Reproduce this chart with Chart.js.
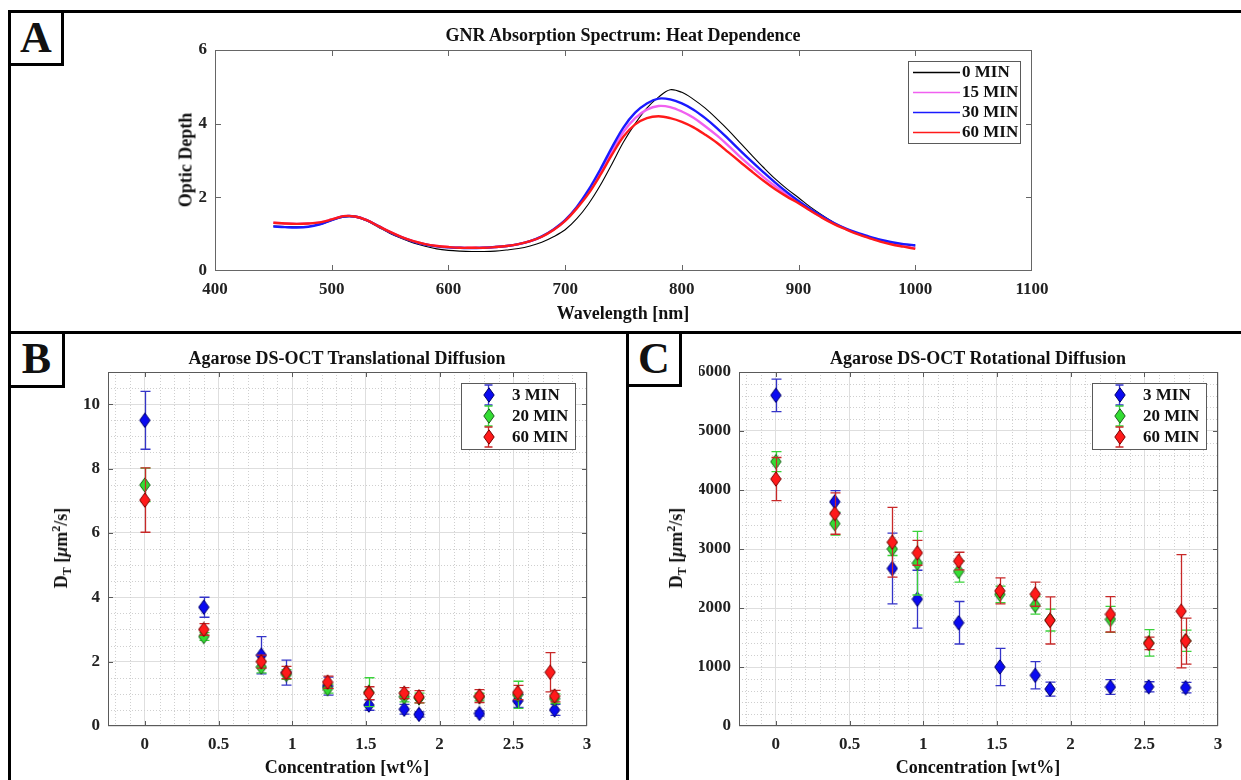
<!DOCTYPE html>
<html>
<head>
<meta charset="utf-8">
<script src="https://cdn.jsdelivr.net/npm/chart.js@4.4.1/dist/chart.umd.min.js"></script>
<style>
  body { margin: 0; background: #fff; }
  #fig { position: relative; width: 1241px; height: 780px; overflow: hidden;
         font-family: "Liberation Serif", "Times New Roman", serif; font-weight: bold; color: #111; }
  .pane { position: absolute; }
  .rule { position: absolute; background: #000; z-index: 3; }
  .letter { position: absolute; border: 3px solid #000; background: #fff; font-size: 44px;
            line-height: 50px; text-align: center; box-sizing: border-box; z-index: 4; }
  .txt { position: absolute; white-space: nowrap; transform: translate(-50%, -50%); font-size: 18px; z-index: 2; }
  .ytxt { position: absolute; white-space: nowrap; transform: translate(-50%, -50%) rotate(-90deg); font-size: 18px; z-index: 2; }
  .ytxt sub { font-size: 12px; vertical-align: -4px; }
  .ytxt sup { font-size: 12px; vertical-align: 7px; }
</style>
</head>
<body>
<div id="fig">
  <div class="pane" style="left:0px;top:0px;width:1241px;height:332px"><canvas id="chartA" width="1241" height="332"></canvas></div>
  <div class="pane" style="left:0px;top:332px;width:626px;height:448px"><canvas id="chartB" width="626" height="448"></canvas></div>
  <div class="pane" style="left:629px;top:332px;width:612px;height:448px"><canvas id="chartC" width="612" height="448"></canvas></div>

  <div class="rule" style="left:8px;top:10px;width:1233px;height:3px"></div>
  <div class="rule" style="left:8px;top:10px;width:3px;height:770px"></div>
  <div class="rule" style="left:8px;top:331px;width:1233px;height:3px"></div>
  <div class="rule" style="left:626px;top:331px;width:3px;height:449px"></div>

  <div class="letter" style="left:8px;top:10px;width:56px;height:56px">A</div>
  <div class="letter" style="left:8px;top:331px;width:57px;height:57px">B</div>
  <div class="letter" style="left:626px;top:331px;width:56px;height:56px">C</div>

  <div class="txt" style="left:623px;top:35px">GNR Absorption Spectrum: Heat Dependence</div>
  <div class="txt" style="left:623px;top:313px">Wavelength [nm]</div>
  <div class="ytxt" style="left:186px;top:160px">Optic Depth</div>

  <div class="txt" style="left:347px;top:358px">Agarose DS-OCT Translational Diffusion</div>
  <div class="txt" style="left:347px;top:767px">Concentration [wt%]</div>
  <div class="ytxt" style="left:62px;top:548px">D<sub>T</sub> [<i>&mu;</i>m<sup>2</sup>/s]</div>

  <div class="txt" style="left:978px;top:358px">Agarose DS-OCT Rotational Diffusion</div>
  <div class="txt" style="left:978px;top:767px">Concentration [wt%]</div>
  <div class="ytxt" style="left:677px;top:548px">D<sub>T</sub> [<i>&mu;</i>m<sup>2</sup>/s]</div>
</div>

<script>
// ---- panel A: absorption spectra ----
const wavelength = [450, 460, 470, 480, 490, 500, 510, 520, 530, 540,
                    550, 560, 570, 580, 590, 600, 610, 620, 630, 640,
                    650, 660, 670, 680, 690, 700, 710, 720, 730, 740,
                    750, 760, 770, 780, 790, 800, 810, 820, 830, 840,
                    850, 860, 870, 880, 890, 900, 910, 920, 930, 940,
                    950, 960, 970, 980, 990, 1000];
const od0 = [1.22, 1.21, 1.20, 1.21, 1.26, 1.37, 1.46, 1.46, 1.36, 1.19,
             1.02, 0.88, 0.76, 0.67, 0.60, 0.56, 0.54, 0.53, 0.53, 0.54,
             0.57, 0.61, 0.68, 0.78, 0.93, 1.12, 1.42, 1.82, 2.32, 2.90,
             3.50, 4.00, 4.42, 4.72, 4.92, 4.85, 4.66, 4.42, 4.13, 3.82,
             3.48, 3.14, 2.81, 2.50, 2.23, 1.99, 1.74, 1.52, 1.32, 1.16,
             1.02, 0.91, 0.83, 0.77, 0.72, 0.68];
const od15 = [1.31, 1.29, 1.28, 1.29, 1.32, 1.40, 1.49, 1.48, 1.38, 1.22,
              1.06, 0.92, 0.81, 0.73, 0.68, 0.65, 0.63, 0.63, 0.63, 0.65,
              0.68, 0.73, 0.81, 0.93, 1.12, 1.37, 1.72, 2.15, 2.68, 3.25,
              3.78, 4.15, 4.38, 4.48, 4.45, 4.33, 4.16, 3.93, 3.68, 3.40,
              3.10, 2.82, 2.55, 2.30, 2.07, 1.86, 1.65, 1.46, 1.29, 1.15,
              1.02, 0.91, 0.82, 0.74, 0.68, 0.62];
const od30 = [1.21, 1.19, 1.18, 1.20, 1.27, 1.38, 1.48, 1.48, 1.38, 1.22,
              1.05, 0.91, 0.80, 0.72, 0.67, 0.64, 0.63, 0.62, 0.63, 0.65,
              0.68, 0.73, 0.81, 0.94, 1.13, 1.38, 1.74, 2.20, 2.75, 3.35,
              3.90, 4.30, 4.55, 4.68, 4.66, 4.55, 4.38, 4.15, 3.88, 3.58,
              3.27, 2.97, 2.68, 2.40, 2.14, 1.90, 1.68, 1.49, 1.31, 1.16,
              1.04, 0.94, 0.85, 0.78, 0.73, 0.70];
const od60 = [1.31, 1.29, 1.28, 1.29, 1.32, 1.40, 1.49, 1.48, 1.38, 1.22,
              1.06, 0.92, 0.81, 0.73, 0.68, 0.65, 0.63, 0.63, 0.63, 0.65,
              0.68, 0.73, 0.81, 0.93, 1.11, 1.36, 1.70, 2.10, 2.60, 3.15,
              3.65, 3.98, 4.15, 4.20, 4.15, 4.05, 3.90, 3.70, 3.48, 3.22,
              2.96, 2.70, 2.45, 2.22, 2.02, 1.84, 1.64, 1.45, 1.28, 1.14,
              1.01, 0.90, 0.80, 0.72, 0.66, 0.60];
const specTicksX = [400, 500, 600, 700, 800, 900, 1000, 1100];
const specTicksY = [0, 2, 4, 6];

// ---- panels B and C: diffusion vs concentration ----
const conc = [0, 0.4, 0.79, 0.96, 1.24, 1.52, 1.76, 1.86, 2.27, 2.53, 2.78];
const conc60 = [0, 0.4, 0.79, 0.96, 1.24, 1.52, 1.76, 1.86, 2.27, 2.53, 2.75, 2.78];
const concTicks = [0, 0.5, 1, 1.5, 2, 2.5, 3];

const trans3 = [9.5, 3.69, 2.2, 1.66, 1.24, 0.65, 0.52, 0.36, 0.39, 0.78, 0.5];
const trans3Err = [0.9, 0.31, 0.58, 0.39, 0.28, 0.16, 0.15, 0.08, 0.08, 0.2, 0.17];
const trans20 = [7.49, 2.78, 1.83, 1.6, 1.16, 1.05, 0.91, 0.87, 0.9, 0.97, 0.85];
const trans20Err = [0.52, 0.12, 0.18, 0.15, 0.14, 0.45, 0.16, 0.15, 0.12, 0.42, 0.15];
const trans60 = [7.02, 3.0, 2.0, 1.66, 1.36, 1.02, 1.02, 0.91, 0.93, 1.04, 1.67, 0.93];
const trans60Err = [1.0, 0.18, 0.2, 0.19, 0.19, 0.2, 0.17, 0.19, 0.2, 0.22, 0.61, 0.18];
const transTicks = [0, 2, 4, 6, 8, 10];

const rot3 = [5605, 3800, 2670, 2150, 1750, 1000, 860, 625, 660, 665, 650];
const rot3Err = [275, 190, 600, 490, 360, 315, 230, 120, 125, 85, 90];
const rot20 = [4480, 3430, 3000, 2760, 2620, 2230, 2045, 1795, 1808, 1410, 1445];
const rot20Err = [170, 195, 110, 540, 180, 140, 150, 185, 220, 225, 180];
const rot60 = [4186, 3600, 3115, 2935, 2795, 2290, 2235, 1790, 1893, 1400, 1945, 1440];
const rot60Err = [365, 350, 590, 210, 150, 220, 205, 400, 300, 105, 960, 390];
const rotTicks = [0, 1000, 2000, 3000, 4000, 5000, 6000];

const FONT = '"Liberation Serif", "Times New Roman", serif';

function pts(xs, ys) {
  return xs.map((x, i) => ({x: x, y: ys[i]}));
}

function diamond(fill, edge) {
  const c = document.createElement('canvas');
  c.width = 12; c.height = 16;
  const g = c.getContext('2d');
  g.beginPath();
  g.moveTo(6, 0.8); g.lineTo(11.2, 8); g.lineTo(6, 15.2); g.lineTo(0.8, 8);
  g.closePath();
  g.fillStyle = fill; g.fill();
  g.lineWidth = 1; g.strokeStyle = edge; g.stroke();
  return c;
}

// box round the plot area with inward tick marks on all four sides
const frameTicks = {
  id: 'frameTicks',
  afterDatasetsDraw(chart, args, o) {
    if (!o.color) return;
    const {ctx, chartArea: a, scales: {x, y}} = chart;
    ctx.save();
    ctx.strokeStyle = o.color;
    ctx.lineWidth = 1;
    ctx.strokeRect(a.left + 0.5, a.top + 0.5, a.width - 1, a.height - 1);
    ctx.beginPath();
    x.ticks.forEach(t => {
      const px = Math.round(x.getPixelForValue(t.value)) + 0.5;
      if (px < a.left + 2 || px > a.right - 2) return;
      ctx.moveTo(px, a.bottom); ctx.lineTo(px, a.bottom - o.len);
      ctx.moveTo(px, a.top); ctx.lineTo(px, a.top + o.len);
    });
    y.ticks.forEach(t => {
      const py = Math.round(y.getPixelForValue(t.value)) + 0.5;
      if (py < a.top + 2 || py > a.bottom - 2) return;
      ctx.moveTo(a.left, py); ctx.lineTo(a.left + o.len, py);
      ctx.moveTo(a.right, py); ctx.lineTo(a.right - o.len, py);
    });
    ctx.stroke();
    ctx.restore();
  }
};

// dotted minor grid
const minorGrid = {
  id: 'minorGrid',
  beforeDatasetsDraw(chart, args, o) {
    if (!o.xStep) return;
    const {ctx, chartArea: a, scales: {x, y}} = chart;
    ctx.save();
    ctx.strokeStyle = o.color;
    ctx.lineWidth = 1;
    ctx.setLineDash([1, 2]);
    ctx.beginPath();
    const near = (v, m) => Math.abs(v / m - Math.round(v / m)) < 1e-6;
    for (let k = Math.ceil(x.min / o.xStep); k * o.xStep <= x.max + 1e-9; k++) {
      const v = k * o.xStep;
      if (near(v, o.xMajor)) continue;
      const px = Math.round(x.getPixelForValue(v)) + 0.5;
      ctx.moveTo(px, a.top); ctx.lineTo(px, a.bottom);
    }
    for (let k = Math.ceil(y.min / o.yStep); k * o.yStep <= y.max + 1e-9; k++) {
      const v = k * o.yStep;
      if (near(v, o.yMajor)) continue;
      const py = Math.round(y.getPixelForValue(v)) + 0.5;
      ctx.moveTo(a.left, py); ctx.lineTo(a.right, py);
    }
    ctx.stroke();
    ctx.restore();
  }
};

// vertical error bars under each dataset's markers
const errorBars = {
  id: 'errorBars',
  beforeDatasetDraw(chart, args) {
    const ds = chart.data.datasets[args.index];
    if (!ds.errors) return;
    const ctx = chart.ctx, yS = chart.scales.y;
    ctx.save();
    ctx.strokeStyle = ds.errorColor;
    ctx.lineWidth = 1.3;
    ctx.beginPath();
    args.meta.data.forEach((pt, i) => {
      const v = ds.data[i].y, e = ds.errors[i];
      const px = Math.round(pt.x) + 0.5;
      const top = yS.getPixelForValue(v + e), bot = yS.getPixelForValue(v - e);
      ctx.moveTo(px, top); ctx.lineTo(px, bot);
      ctx.moveTo(px - 5, top); ctx.lineTo(px + 5, top);
      ctx.moveTo(px - 5, bot); ctx.lineTo(px + 5, bot);
    });
    ctx.stroke();
    ctx.restore();
  }
};

// MATLAB style legend box inside the plot area
const boxLegend = {
  id: 'boxLegend',
  afterDraw(chart, args, o) {
    if (!o.width) return;
    const {ctx, chartArea: a} = chart;
    const bx = Math.round(a.right - o.right - o.width), by = Math.round(a.top + o.top);
    ctx.save();
    ctx.fillStyle = '#fff';
    ctx.fillRect(bx, by, o.width, o.height);
    ctx.strokeStyle = '#5a5a5a';
    ctx.lineWidth = 1;
    ctx.strokeRect(bx + 0.5, by + 0.5, o.width, o.height);
    ctx.font = 'bold 17px ' + FONT;
    ctx.textBaseline = 'middle';
    let row = 0;
    chart.data.datasets.forEach(ds => {
      const ry = by + o.rowTop + row * o.rowGap;
      row++;
      if (o.kind === 'line') {
        ctx.strokeStyle = ds.borderColor;
        ctx.lineWidth = 1.5;
        ctx.beginPath();
        ctx.moveTo(bx + o.sampleX, ry + 0.5);
        ctx.lineTo(bx + o.sampleX + o.sampleLen, ry + 0.5);
        ctx.stroke();
      } else {
        const mx = bx + o.sampleX + 0.5;
        ctx.strokeStyle = ds.errorColor;
        ctx.lineWidth = 1.3;
        ctx.beginPath();
        ctx.moveTo(mx, ry - 10); ctx.lineTo(mx, ry + 10);
        ctx.moveTo(mx - 4, ry - 10); ctx.lineTo(mx + 4, ry - 10);
        ctx.moveTo(mx - 4, ry + 10); ctx.lineTo(mx + 4, ry + 10);
        ctx.stroke();
        const img = ds.pointStyle;
        ctx.drawImage(img, Math.round(mx - img.width / 2), Math.round(ry - img.height / 2));
      }
      ctx.fillStyle = '#111';
      ctx.fillText(ds.label, bx + o.textX, ry + 1);
    });
    ctx.restore();
  }
};

Chart.register(frameTicks, minorGrid, errorBars, boxLegend);

const tickFont = {family: FONT, size: 17, weight: 'bold'};
const fixedTicks = arr => scale => { scale.ticks = arr.map(v => ({value: v})); };

// Chart.js paints the lowest "order" last, so later series get lower order
function lineSet(label, ys, color, width, order) {
  return {
    label: label, data: pts(wavelength, ys), borderColor: color, borderWidth: width,
    pointRadius: 0, tension: 0.35, fill: false, order: order
  };
}

new Chart(document.getElementById('chartA'), {
  type: 'line',
  data: {
    datasets: [
      lineSet('0 MIN', od0, '#000000', 1.1, 3),
      lineSet('15 MIN', od15, '#f060f0', 2.4, 2),
      lineSet('30 MIN', od30, '#1a1aff', 2.4, 1),
      lineSet('60 MIN', od60, '#ff1a1a', 2.4, 0)
    ]
  },
  options: {
    responsive: false, animation: false, devicePixelRatio: 1, events: [],
    layout: {padding: {left: 175, right: 209, top: 50, bottom: 31}},
    plugins: {
      legend: {display: false}, tooltip: {enabled: false},
      frameTicks: {color: '#666', len: 6},
      boxLegend: {kind: 'line', width: 112, height: 82, right: 12, top: 11,
                  rowTop: 11, rowGap: 20, sampleX: 5, sampleLen: 47, textX: 54}
    },
    scales: {
      x: {
        type: 'linear', min: 400, max: 1100,
        afterBuildTicks: fixedTicks(specTicksX),
        afterFit: s => { s.height = 30; },
        grid: {display: false, drawTicks: false}, border: {display: false},
        ticks: {font: tickFont, color: '#222', padding: 8, maxRotation: 0, autoSkip: false,
                callback: v => String(v)}
      },
      y: {
        type: 'linear', min: 0, max: 6,
        afterBuildTicks: fixedTicks(specTicksY),
        afterFit: s => { s.width = 40; },
        grid: {display: false, drawTicks: false}, border: {display: false},
        ticks: {font: tickFont, color: '#222', padding: 8, autoSkip: false,
                callback: v => String(v)}
      }
    }
  }
});

const mark3 = diamond('#0a0af0', '#00006a');
const mark20 = diamond('#33dd33', '#1f5f1f');
const mark60 = diamond('#ff1a1a', '#7a0000');

function scatterSet(label, xs, ys, errs, marker, errColor, order) {
  return {
    label: label, data: pts(xs, ys), errors: errs, errorColor: errColor,
    pointStyle: marker, pointRadius: 6, showLine: false, order: order
  };
}

function diffusionChart(id, leftPad, rightPad, ymax, yTicks, yMinor, sets) {
  return new Chart(document.getElementById(id), {
    type: 'scatter',
    data: {datasets: sets},
    options: {
      responsive: false, animation: false, devicePixelRatio: 1, events: [],
      layout: {padding: {left: leftPad, right: rightPad, top: 40, bottom: 24}},
      plugins: {
        legend: {display: false}, tooltip: {enabled: false},
        frameTicks: {color: '#5a5a5a', len: 5},
        minorGrid: {color: '#cfcfcf', xStep: 0.1, xMajor: 0.5, yStep: yMinor, yMajor: yTicks[1] - yTicks[0]},
        boxLegend: {kind: 'marker', width: 114, height: 66, right: 12, top: 11,
                    rowTop: 12, rowGap: 21, sampleX: 27, textX: 51}
      },
      scales: {
        x: {
          type: 'linear', min: -0.25, max: 3,
          afterBuildTicks: fixedTicks(concTicks),
          afterFit: s => { s.height = 30; },
          grid: {color: '#dedede', drawTicks: false}, border: {display: false},
          ticks: {font: tickFont, color: '#222', padding: 8, maxRotation: 0, autoSkip: false,
                  callback: v => String(v)}
        },
        y: {
          type: 'linear', min: 0, max: ymax,
          afterBuildTicks: fixedTicks(yTicks),
          afterFit: s => { s.width = 40; },
          grid: {color: '#dedede', drawTicks: false}, border: {display: false},
          ticks: {font: tickFont, color: '#222', padding: 8, autoSkip: false,
                  callback: v => String(v)}
        }
      }
    }
  });
}

diffusionChart('chartB', 68, 39, 11, transTicks, 0.5, [
  scatterSet('3 MIN', conc, trans3, trans3Err, mark3, '#3434c8', 2),
  scatterSet('20 MIN', conc, trans20, trans20Err, mark20, '#3ad23a', 1),
  scatterSet('60 MIN', conc60, trans60, trans60Err, mark60, '#c82828', 0)
]);

diffusionChart('chartC', 70, 23, 6000, rotTicks, 200, [
  scatterSet('3 MIN', conc, rot3, rot3Err, mark3, '#3434c8', 2),
  scatterSet('20 MIN', conc, rot20, rot20Err, mark20, '#3ad23a', 1),
  scatterSet('60 MIN', conc60, rot60, rot60Err, mark60, '#c82828', 0)
]);
</script>
</body>
</html>
